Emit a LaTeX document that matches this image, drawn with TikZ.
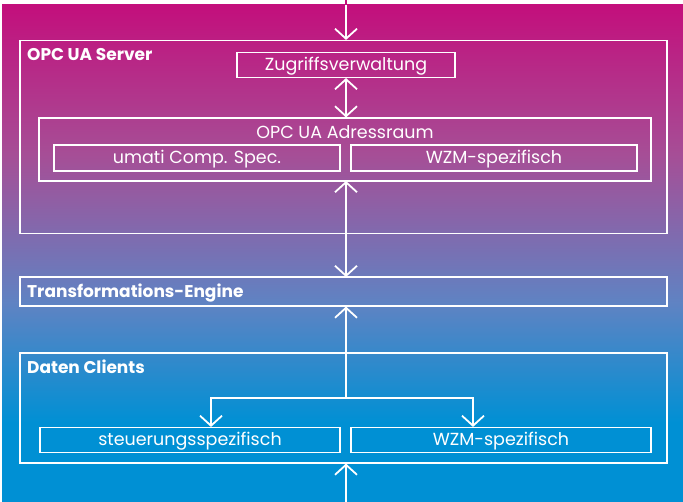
\documentclass[tikz,border=0pt]{standalone}
\usepackage{fontspec}
\setmainfont{Poppins}
\usetikzlibrary{arrows.meta}

\definecolor{umagenta}{HTML}{C30F7C}
\definecolor{umidA}{HTML}{A64E96}
\definecolor{umidB}{HTML}{5F83C3}
\definecolor{ublue}{HTML}{0090D4}

\pgfdeclareverticalshading{bgfade}{100bp}{color(0bp)=(ublue); color(33bp)=(ublue); color(45bp)=(umidB); color(60bp)=(umidA); color(75bp)=(umagenta); color(100bp)=(umagenta)}

\tikzset{
  box/.style={draw=white, line width=1.1pt, text=white, inner sep=0pt,
    text height=12.5pt, text depth=1.5pt,
    font=\fontsize{17.5}{20}\selectfont},
  frame/.style={draw=white, line width=1.1pt, inner sep=0pt},
  title/.style={text=white, anchor=west, inner sep=0pt,
    font=\fontsize{17}{20}\selectfont\bfseries},
  arr/.style={draw=white, line width=1.8pt, -{Straight Barb[length=10pt,width=22pt]}},
  darr/.style={draw=white, line width=1.8pt, {Straight Barb[length=10pt,width=22pt]}-{Straight Barb[length=10pt,width=22pt]}}
}

\begin{document}
\begin{tikzpicture}[x=1pt, y=-1pt]
    \useasboundingbox (0,0) rectangle (683,502);
    % background
    \shade[shading=bgfade] (2,5) rectangle (683,502);

    % OPC UA Server
    \node[frame, minimum width=647, minimum height=193] (server) at (343.5,137) {};
    \node[title] (serverlbl) at (27,55) {OPC UA Server};
    \node[box, minimum width=218, minimum height=25] (zugriff) at (346,65) {Zugriffsverwaltung};
    \node[frame, minimum width=612, minimum height=63] (adress) at (345,149.5) {};
    \node[text=white, inner sep=0pt, font=\fontsize{17.5}{20}\selectfont] (adresslbl) at (345,132) {OPC UA Adressraum};
    \node[box, minimum width=286, minimum height=26] (umati) at (197,158) {umati Comp. Spec.};
    \node[box, minimum width=286, minimum height=26] (wzmA) at (494,158) {WZM-spezifisch};

    % Transformations-Engine
    \node[frame, minimum width=647, minimum height=29] (trans) at (343.5,291.5) {};
    \node[title] (translbl) at (27,293) {Transformations-Engine};

    % Daten Clients
    \node[frame, minimum width=647, minimum height=110] (clients) at (343.5,408) {};
    \node[title] (clientslbl) at (27,367) {Daten Clients};
    \node[box, minimum width=300, minimum height=25] (steuer) at (190,440) {steuerungsspezifisch};
    \node[box, minimum width=300, minimum height=25] (wzmB) at (501,440) {WZM-spezifisch};

    % connectors
    \coordinate (topin) at (346,0);
    \coordinate (botin) at (346,502);
    \coordinate (split) at (346,398);
    \coordinate (brL) at (211,398);
    \coordinate (brR) at (473,398);

    \draw[arr] (topin) -- (topin |- server.north);
    \draw[umagenta, line width=1.8pt] (topin) -- (346,5.5);
    \draw[darr] (zugriff.south) -- (zugriff.south |- adress.north);
    \draw[darr] (346,181) -- (346,277);
    \draw[arr] (split) -- (split |- trans.south);
    \draw[arr] (split) -- (brL) -- (brL |- steuer.north);
    \draw[arr] (split) -- (brR) -- (brR |- wzmB.north);
    \draw[arr] (botin) -- (botin |- clients.south);
\end{tikzpicture}
\end{document}
